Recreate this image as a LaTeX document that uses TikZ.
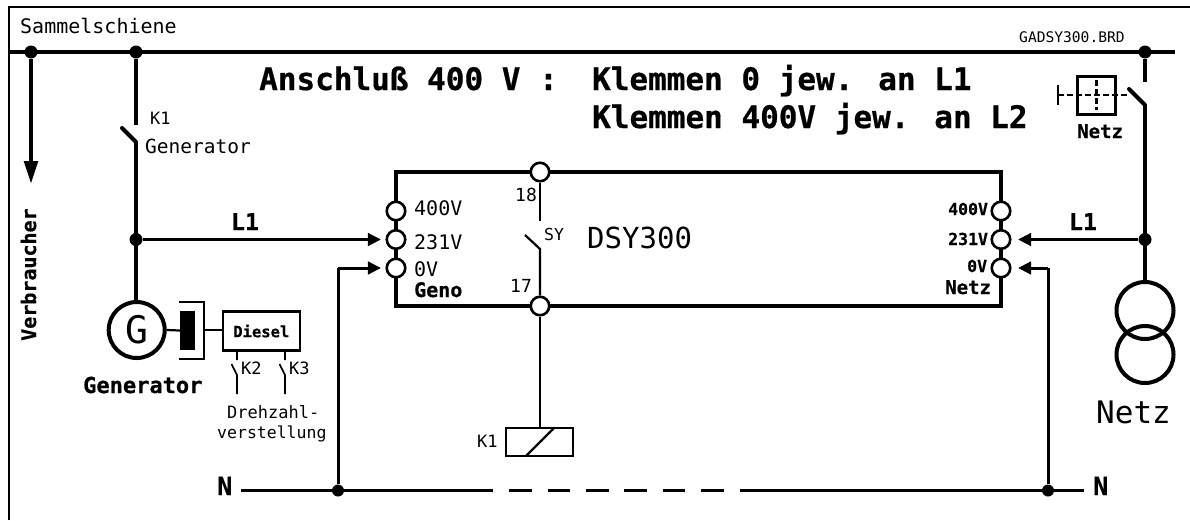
\documentclass[tikz,border=0pt]{standalone}
\usepackage{fontspec}
\setmainfont{DejaVu Sans Mono}[BoldFeatures={FakeBold=0.6}]
\usetikzlibrary{arrows.meta}
\tikzset{
  x=1pt,y=-1pt,
  thin line/.style={line width=2.2pt},
  mid line/.style={line width=3pt},
  thick line/.style={line width=4pt},
  bus line/.style={line width=4.4pt},
  term/.style={circle,draw=black,fill=white,line width=2.6pt,minimum size=18.5pt,inner sep=0pt},
  jdot/.style={circle,fill=black,minimum size=13pt,inner sep=0pt},
  ndot/.style={circle,fill=black,minimum size=12pt,inner sep=0pt},
  txt/.style={inner sep=0pt,anchor=base west},
  arr/.style={-{Triangle[length=13pt,width=12.5pt]},mid line},
}
\newcommand{\tf}[1]{\fontsize{#1}{#1}\selectfont}
\begin{document}
\begin{tikzpicture}
\useasboundingbox (0,0) rectangle (1190,520);
\fill[white] (0,0) rectangle (1190,520);
% frame and bus
\coordinate (fa) at (9,520); \coordinate (fb) at (9,7); \coordinate (fc) at (1190,7);
\draw[line width=2.5pt] (fa) -- (fb) -- (fc);
\coordinate (ba) at (9,52); \coordinate (bb) at (1175,52);
\draw[bus line] (ba) -- (bb);
\node[jdot] (j1) at (31,52) {};
\node[jdot] (j2) at (136,52) {};
\node[jdot] (j3) at (1145,52) {};
% Verbraucher
\coordinate (va) at (31,184);
\draw[thick line,-{Triangle[length=23pt,width=13.5pt]}] (j1) -- (va);
\node[txt,rotate=90,font=\tf{20}\bfseries] (verb) at (36,341) {Verbraucher};
\node[txt,font=\tf{20}] (samm) at (20,33) {Sammelschiene};
\node[txt,font=\tf{14.6}] (brd) at (1019,42) {GADSY300.BRD};
% Title
\node[txt,font=\tf{31}\bfseries] (t1) at (259,90) {Anschluß 400 V :\ \kern-3pt\ Klemmen 0 jew. an L1};
\node[txt,font=\tf{31}\bfseries] (t2) at (592,128) {Klemmen 400V jew. an L2};
% Generator branch
\coordinate (k1a) at (136,125); \coordinate (k1b) at (122,128); \coordinate (k1c) at (136,142);
\node[circle,draw=black,fill=white,line width=4pt,minimum size=56pt,inner sep=0pt,font=\tf{38}] (gen) at (136.7,330) {G};
\draw[thick line] (j2) -- (k1a);
\draw[thick line,line cap=round] (k1b) -- (k1c);
\draw[thick line] (k1c) -- (k1c |- gen.north);
\node[jdot] (j4) at (136,239.5) {};
\node[txt,font=\tf{17}] (k1t) at (150,124) {K1};
\node[txt,font=\tf{19.5}] (gt1) at (145,153) {Generator};
\node[txt,font=\tf{22}\bfseries] (gt2) at (83,393) {Generator};
% DSY box
\coordinate (bl1) at (396,172); \coordinate (bl2) at (396,306);
\coordinate (br1) at (1001,172); \coordinate (br2) at (1001,306);
\draw[thick line] (bl1) -- (bl2) -- (br2) -- (br1) -- cycle;
\node[term] (t18) at (540,172) {};
\node[term] (t17) at (540,306) {};
\node[term] (l400) at (396,211) {};
\node[term] (l231) at (396,239.5) {};
\node[term] (l0) at (396,268) {};
\node[term] (r400) at (1001,211) {};
\node[term] (r231) at (1001,239.5) {};
\node[term] (r0) at (1001,268) {};
\node[txt,font=\tf{20}] at (414,215) {400V};
\node[txt,font=\tf{20}] at (414,249) {231V};
\node[txt,font=\tf{20}] at (414,276) {0V};
\node[txt,font=\tf{20}\bfseries] at (414,297) {Geno};
\node[txt,font=\tf{16.5}\bfseries] at (948,215) {400V};
\node[txt,font=\tf{16.5}\bfseries] at (948,245) {231V};
\node[txt,font=\tf{16.5}\bfseries] at (967,272) {0V};
\node[txt,font=\tf{19}\bfseries] at (945,294) {Netz};
\node[txt,font=\tf{18}] at (515,201) {18};
\node[txt,font=\tf{18}] at (510,292) {17};
\node[txt,font=\tf{16.5}] at (544,240) {SY};
\node[txt,font=\tf{29}] at (587,248) {DSY300};
% internal switch
\coordinate (sa) at (540,221); \coordinate (sb) at (525,235); \coordinate (sc) at (540,249);
\draw[thin line] (t18) -- (sa);
\draw[thin line] (sb) -- (sc) -- (t17);
% coil
\node[draw=black,line width=2.5pt,minimum width=67pt,minimum height=28pt,inner sep=0pt] (coil) at (539.5,442) {};
\draw[thin line] (t17) -- (t17 |- coil.north);
\coordinate (da) at (526,456); \coordinate (db) at (554,428);
\draw[thin line] (da) -- (db);
\node[txt,font=\tf{17}] at (477,447) {K1};
% L1 connectors
\draw[arr,shorten >=4.5pt] (j4) -- (l231);
\node[txt,font=\tf{23}\bfseries] at (231,230) {L1};
\coordinate (n1) at (338,268);
\node[ndot] (j5) at (338,490.5) {};
\draw[mid line] (j5) -- (n1);
\draw[arr,shorten >=4.5pt] (n1) -- (l0);
% generator coupling
\node[fill=black,minimum width=15pt,minimum height=39pt,inner sep=0pt] (cp) at (187.5,330.5) {};
\draw[thin line] (gen.east) -- (cp.west);
\coordinate (c1) at (179,302); \coordinate (c2) at (204,302); \coordinate (c3) at (204,359); \coordinate (c4) at (179,359); \coordinate (c5) at (204,330);
\draw[thin line] (c1) -- (c2) -- (c3) -- (c4);
\node[draw=black,thin line,minimum width=77pt,minimum height=39pt,inner sep=0pt,font=\tf{15.5}\bfseries] (die) at (261.3,331) {Diesel};
\draw[thin line] (c5) -- (die.west |- c5);
% speed switches
\foreach \name/\x in {a/237,b/285}{
  \coordinate (s\name1) at (\x,351);
  \coordinate (s\name2) at (\x,360);
  \coordinate (s\name3) at (\x-5.5,364);
  \coordinate (s\name4) at (\x,375);
  \coordinate (s\name5) at (\x,394);
  \draw[line width=1.6pt] (s\name1) -- (s\name2) (s\name3) -- (s\name4) -- (s\name5);
}
\node[txt,font=\tf{17}] at (241,374) {K2};
\node[txt,font=\tf{17}] at (289,374) {K3};
\node[txt,font=\tf{17}] at (227,418) {Drehzahl-};
\node[txt,font=\tf{16.5}] at (217,438) {verstellung};
% N line
\node[txt,font=\tf{25}\bfseries] at (217,495) {N};
\node[txt,font=\tf{25}\bfseries] at (1093,495) {N};
\coordinate (na) at (241,490.5); \coordinate (nb) at (493,490.5);
\coordinate (nc) at (740,490.5); \coordinate (nd) at (1084,490.5);
\draw[mid line] (na) -- (nb);
\draw[mid line] (nc) -- (nd);
\foreach \a/\b in {509/532,548/570,586/609,624/647,663/685,701/724}{
  \coordinate (dsa\a) at (\a,490.5); \coordinate (dsb\a) at (\b,490.5);
  \draw[mid line] (dsa\a) -- (dsb\a);
}
\node[ndot] (j6) at (1048,490.5) {};
\coordinate (n2) at (1048,268);
\draw[mid line] (j6) -- (n2);
\draw[arr,shorten >=6.5pt] (n2) -- (r0);
% Net side
\coordinate (ra) at (1145,82); \coordinate (rb) at (1129,89); \coordinate (rc) at (1145,105);
\node[circle,draw=black,line width=4pt,minimum size=57pt,inner sep=0pt] (tu) at (1145,310.5) {};
\node[circle,draw=black,line width=4pt,minimum size=57pt,inner sep=0pt] (tl) at (1145,354.5) {};
\draw[thick line] (j3) -- (ra);
\draw[thick line,line cap=round] (rb) -- (rc);
\draw[thick line] (rc) -- (tu.north);
\node[jdot] (j7) at (1145,239.5) {};
\draw[arr,shorten >=6.5pt] (j7) -- (r231);
\node[txt,font=\tf{23}\bfseries] at (1069,230) {L1};
\node[txt,font=\tf{31}] at (1096,423) {Netz};
\node[txt,font=\tf{19}\bfseries] at (1077,138) {Netz};
% relay symbol
\node[draw=black,thin line,minimum size=38pt,inner sep=0pt] (rel) at (1096.5,95.5) {};
\coordinate (p1) at (1058,85); \coordinate (p2) at (1058,105); \coordinate (p3) at (1058,95); \coordinate (p4) at (1127,95);
\coordinate (p5) at (1096.5,80); \coordinate (p6) at (1096.5,110);
\draw[line width=1.8pt] (p1) -- (p2);
\draw[line width=1.5pt,dash pattern=on 6pt off 3pt] (p3) -- (p4);
\draw[thin line,dash pattern=on 6pt off 3pt] (p5) -- (p6);
\end{tikzpicture}
\end{document}
